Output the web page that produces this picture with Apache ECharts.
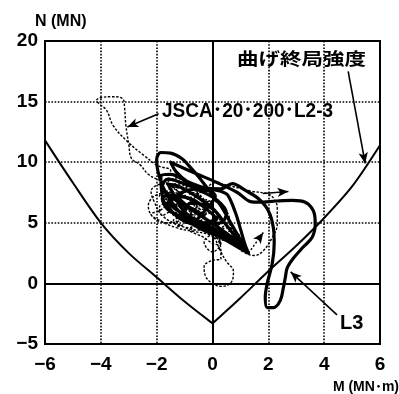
<!DOCTYPE html>
<html>
<head>
<meta charset="utf-8">
<script src="https://cdn.jsdelivr.net/npm/echarts@6/dist/echarts.min.js"></script>
<style>
  html, body { margin: 0; padding: 0; background: #fff; }
  #chart { width: 399px; height: 394px; }
</style>
</head>
<body>
<div id="chart"></div>
<script>
// Axis ticks
const xTicks = [-6, -4, -2, 0, 2, 4, 6];
const yTicks = [-5, 0, 5, 10, 15, 20];

// Bending ultimate strength envelope (M, N)
const envLeftM = [-6, -5, -4, -3, -2, -1, 0];
const envLeftN = [11.8, 8.3, 5.0, 2.5, 0.5, -1.5, -3.3];
const envRightM = [0, 1, 2, 3, 4, 5, 6];
const envRightN = [-3.3, -1.2, 1.0, 3.1, 5.4, 8.0, 11.4];

// JSCA-20-200-L2-3 response trace (M, N)
const jscaM = [-0.2, -0.7, -1.2, -1.6, -1.3, -0.7, -0.4, -0.8, -1.4, -2.0, -2.3, -2.1, -1.6, -1.1, -1.0, -1.5,
  -1.9, -2.2, -1.9, -1.3, -0.7, -0.1, 0.3,
  0.0, -0.3, 0.1, 0.6, 0.8, 0.4,
  -0.2, -0.7, -1.1, -1.4, -1.9, -2.3,
  -2.6, -2.9, -3.0, -3.1, -3.15, -3.2, -3.6, -3.95, -4.15, -4.05, -3.8, -3.55, -3.0, -2.45, -1.95, -1.5,
  -1.6, -1.3, -1.0, -1.2, -1.5, -1.1, -0.7, -0.5, -0.8, -1.0, -0.6, -0.2, 0.0, -0.3, -0.6, -0.3, 0.1, 0.3, 0.0, -0.3,
  0.1, 0.5, 0.7, 0.4, 0.1, 0.5, 0.9, 1.0, 0.7, 0.4, 0.2,
  -0.4, -0.8, -0.6, -0.9, -1.2, -1.4, -1.1, -1.5, -1.8, -1.9, -1.6, -1.9, -1.6, -1.3, -1.0, -1.3, -0.9, -1.1, -0.6, -0.8, -0.4,
  -1.0, -0.6, -0.3, -0.8, -1.4, -1.7, -1.4, -0.8, -0.3, 0.1, 0.3, 0.0, -0.5, -0.8, -0.5, 0.0, 0.4, 0.6, 0.3,
  -0.5, -1.2, -1.8, -2.1, -2.2, -1.8, -1.2, -0.6,
  -0.1, 0.0, 0.7, 1.4, 1.96, 2.2, 2.32, 2.32, 2.14, 1.82, 1.5, 1.1, 0.8, 0.4, -0.1,
  0.3, 0.3, 0.0, -0.3, -0.25, 0.0, 0.35, 0.7, 0.75, 0.5, 0.3,
  0.0, -0.5, -1.0, -1.3, -0.9, -0.4, -0.2];
const jscaN = [5.2, 5.9, 6.6, 6.2, 5.5, 5.2, 5.8, 6.8, 7.5, 7.3, 6.4, 5.4, 5.0, 5.3, 6.1, 6.5,
  6.0, 5.7, 5.2, 4.6, 4.3, 4.0, 3.3,
  2.6, 3.4, 4.2, 4.6, 4.0, 3.6,
  4.6, 5.6, 6.9, 8.0, 8.5, 9.0,
  9.8, 10.3, 11.5, 13.0, 14.5, 15.2, 15.4, 15.35, 15.1, 14.8, 14.3, 13.0, 11.6, 10.55, 9.7, 9.3,
  8.4, 8.7, 8.3, 7.9, 8.1, 7.5, 7.8, 7.3, 7.0, 7.3, 6.6, 6.9, 6.4, 6.1, 6.3, 5.7, 5.9, 5.4, 5.1, 5.3,
  4.8, 5.0, 4.5, 4.2, 4.4, 3.9, 4.1, 3.6, 3.3, 3.6, 3.2,
  3.9, 4.4, 4.8, 5.0, 4.7, 5.2, 5.6, 5.9, 5.6, 6.3, 6.8, 7.2, 7.6, 7.2, 7.6, 6.5, 6.2, 5.8, 5.6, 5.2, 4.9,
  8.5, 7.6, 6.8, 6.2, 6.5, 7.3, 7.9, 7.6, 6.9, 6.0, 5.2, 4.6, 4.9, 5.6, 6.4, 6.8, 6.2, 5.4, 4.6,
  4.4, 4.8, 5.6, 6.8, 7.6, 8.2, 8.2, 7.4,
  8.1, 8.3, 8.0, 7.6, 7.4, 7.0, 6.2, 4.9, 3.8, 2.7, 2.3, 2.6, 3.2, 3.9, 4.6,
  2.8, 2.0, 1.9, 1.4, 0.6, 0.0, -0.25, 0.2, 1.0, 1.8, 2.6,
  4.0, 5.0, 5.8, 5.2, 4.6, 5.2, 6.0];

// L3 response trace (M, N)
const l3M = [-0.3, -0.9, -1.5, -1.8, -1.6, -1.0, -0.3, 0.3, 0.5, 0.2, -0.4, -1.1, -1.6, -1.8, -1.4, -0.7, 0.1, 0.8, 1.29,
  1.0, 0.4, -0.3, -0.9, -1.3, -1.7, -1.95, -2.0, -1.85, -1.5, -1.1, -0.8, -0.5, -0.1, 0.3, 0.6, 0.9, 1.25,
  0.9, 0.3, -0.4, -1.1, -1.5, -1.2, -0.5, 0.1,
  -0.2, -0.8, -1.3, -1.6, -1.3, -0.7, -0.2, 0.1, -0.3, -1.0, -1.4, -1.6, -1.2, -0.6, 0.0, 0.5, 0.9, 1.2,
  0.7, 0.0, -0.6, -1.2, -1.75, -1.85, -1.5, -0.9, -0.3, 0.3,
  0.71, 1.18, 1.64, 2.0, 2.18, 2.21, 2.14, 1.96, 1.89, 1.96, 2.18, 2.43, 2.54, 2.61, 2.68, 2.89, 3.25, 3.57, 3.68, 3.61, 3.32, 2.86, 2.3, 1.64, 1.36,
  0.89, 0.18, -0.68, -1.5, -1.3, -0.9, -0.3, 0.3, 0.54, 0.82, 1.0, 1.18, 1.29,
  0.9, 0.2, -0.5, -1.0, -0.8, -0.2, 0.2, -0.2, -0.8];
const l3N = [5.6, 6.4, 7.3, 7.0, 6.1, 5.4, 4.9, 5.0, 5.8, 6.8, 7.6, 8.3, 8.6, 8.0, 7.0, 6.0, 4.8, 3.6, 2.5,
  3.0, 3.8, 4.5, 5.3, 6.2, 7.6, 9.2, 10.2, 10.8, 10.75, 10.3, 9.6, 8.8, 7.6, 6.4, 5.2, 4.0, 2.6,
  3.2, 4.2, 5.0, 5.8, 6.6, 7.4, 7.8, 7.2,
  6.2, 5.0, 5.6, 6.6, 7.2, 6.9, 6.1, 5.4, 5.0, 5.9, 7.4, 8.2, 8.0, 7.2, 6.2, 4.8, 3.6, 2.7,
  3.6, 4.4, 4.8, 5.4, 6.8, 8.9, 9.0, 8.4, 7.9, 7.8,
  8.24, 7.67, 7.0, 6.0, 4.6, 3.3, 1.65, 0.0, -1.15, -2.0, -2.0, -1.4, -0.33, 0.5, 1.3, 2.06, 3.0, 3.8, 4.95, 6.0, 6.7, 6.85, 6.8, 6.7, 6.75,
  7.5, 8.3, 9.15, 10.0, 9.2, 8.4, 7.9, 7.6, 7.3, 5.85, 4.5, 3.1, 2.5,
  3.0, 3.9, 4.6, 5.6, 6.6, 6.4, 5.6, 4.8, 5.0];

const zip = (a, b) => a.map((v, i) => [v, b[i]]);

const numFont = '"Liberation Sans", Arial, sans-serif';
const minus = v => String(v).replace('-', '\u2212');

const chart = echarts.init(document.getElementById('chart'), null, { renderer: 'canvas' });

const arrowEnd = (from, to, style) => [
  { coord: from, symbol: 'none', lineStyle: style },
  { coord: to, symbol: 'arrow', symbolSize: [7, 11] }
];

chart.setOption({
  animation: false,
  backgroundColor: '#fff',
  grid: {
    left: 45, top: 41, right: 19, bottom: 50,
    show: true, borderColor: '#000', borderWidth: 2, backgroundColor: 'transparent'
  },
  xAxis: {
    type: 'value',
    min: xTicks[0], max: xTicks[xTicks.length - 1], interval: xTicks[1] - xTicks[0],
    axisLine: { show: false },
    axisTick: { show: false },
    axisLabel: { color: '#000', fontSize: 19, fontWeight: 'bold', fontFamily: numFont, margin: 11, formatter: minus },
    splitLine: { show: true, lineStyle: { color: '#000', width: 1.6, type: [1.6, 1.6] } }
  },
  yAxis: {
    type: 'value',
    min: yTicks[0], max: yTicks[yTicks.length - 1], interval: yTicks[1] - yTicks[0],
    axisLine: { show: false },
    axisTick: { show: false },
    axisLabel: { color: '#000', fontSize: 19, fontWeight: 'bold', fontFamily: numFont, margin: 7, formatter: minus },
    splitLine: { show: true, lineStyle: { color: '#000', width: 1.6, type: [1.6, 1.6] } }
  },
  series: [
    {
      name: 'envelope-left', type: 'line', data: zip(envLeftM, envLeftN),
      smooth: 0.3, symbol: 'none', lineStyle: { color: '#000', width: 2 },
      markLine: {
        silent: true, animation: false, symbol: 'none',
        label: { show: false },
        lineStyle: { color: '#000', width: 2, type: 'solid' },
        data: [
          { xAxis: 0 },
          { yAxis: 0 },
          arrowEnd([4.86, 17.5], [5.47, 9.9], { color: '#000', width: 1.6, type: 'solid' }),
          arrowEnd([-1.93, 14.0], [-3.05, 12.9], { color: '#000', width: 1.6, type: 'solid' }),
          arrowEnd([4.46, -2.6], [2.8, 0.95], { color: '#000', width: 1.6, type: 'solid' }),
          arrowEnd([1.8, 7.42], [2.72, 7.58], { color: '#000', width: 1.5, type: 'solid' }),
          arrowEnd([1.29, 2.5], [1.82, 4.2], { color: '#000', width: 1.4, type: [2, 2] })
        ]
      }
    },
    {
      name: 'envelope-right', type: 'line', data: zip(envRightM, envRightN),
      smooth: 0.3, symbol: 'none', lineStyle: { color: '#000', width: 2 }
    },
    {
      name: 'JSCA-20-200-L2-3', type: 'line', data: zip(jscaM, jscaN),
      smooth: 0.4, symbol: 'none',
      lineStyle: { color: '#000', width: 1.4, type: [2.5, 1.6] }
    },
    {
      name: 'L3', type: 'line', data: zip(l3M, l3N),
      smooth: 0.35, symbol: 'none',
      lineStyle: { color: '#000', width: 3.2, join: 'round', cap: 'round' }
    }
  ],
  graphic: [
    { type: 'text', x: 35, y: 22, style: { text: 'N (MN)', font: 'bold 16px ' + numFont, fill: '#000', textAlign: 'left', textVerticalAlign: 'middle' } },
    { type: 'text', x: 399, y: 387, style: { text: 'M (MN･m)', font: 'bold 14px "Liberation Sans", "Noto Sans CJK JP", sans-serif', fill: '#000', textAlign: 'right', textVerticalAlign: 'middle' } },
    { type: 'text', x: 237, y: 58, scaleY: 0.8, style: { text: '曲げ終局強度', font: 'bold 21.5px "Noto Sans CJK JP", sans-serif', fill: '#000', textAlign: 'left', textVerticalAlign: 'middle' } },
    { type: 'text', x: 162, y: 111, scaleX: 0.95, style: { text: 'JSCA･20･200･L2-3', font: 'bold 20px "Liberation Sans", "Noto Sans CJK JP", sans-serif', fill: '#000', textAlign: 'left', textVerticalAlign: 'middle' } },
    { type: 'text', x: 340, y: 323, style: { text: 'L3', font: 'bold 20px ' + numFont, fill: '#000', textAlign: 'left', textVerticalAlign: 'middle' } }
  ]
});
</script>
</body>
</html>
